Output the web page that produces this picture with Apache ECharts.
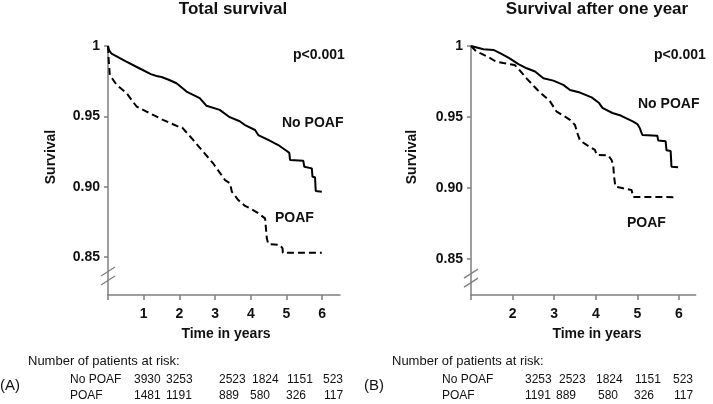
<!DOCTYPE html>
<html>
<head>
<meta charset="utf-8">
<script src="https://cdn.jsdelivr.net/npm/echarts@6/dist/echarts.min.js"></script>
<style>html,body{margin:0;padding:0;background:#fff}#c{width:713px;height:404px}</style>
</head>
<body>
<div id="c"></div>
<script>
// ---- data ----
const titles = ['Total survival', 'Survival after one year'];
const yTickValues = [0.85, 0.90, 0.95, 1];
const xTicksA = [1, 2, 3, 4, 5, 6];
const xTicksB = [2, 3, 4, 5, 6];

// Panel A: total survival  [time in years, survival]
const noPoafA = [[0,1],[0.03,0.997],[0.1,0.9945],[0.5,0.989],[0.89,0.984],[1.2,0.980],[1.36,0.9787],[1.5,0.978],[1.7,0.976],[1.92,0.9735],[2.2,0.9676],[2.57,0.963],[2.76,0.9575],[3.13,0.9546],[3.41,0.9494],[3.69,0.9465],[3.84,0.9438],[4.12,0.9403],[4.21,0.9367],[4.49,0.9332],[4.77,0.9296],[5.0,0.9255],[5.08,0.924],[5.1,0.919],[5.47,0.9185],[5.5,0.9142],[5.71,0.913],[5.73,0.907],[5.8,0.9067],[5.82,0.8969],[5.99,0.8964]];
const poafA = [[0,1],[0.02,0.99],[0.05,0.9794],[0.24,0.9724],[0.52,0.9665],[0.8,0.957],[1.08,0.9534],[1.54,0.9475],[2.0,0.9424],[2.08,0.942],[2.38,0.9334],[2.66,0.925],[2.94,0.9168],[3.28,0.9047],[3.42,0.9024],[3.47,0.8964],[3.65,0.8905],[3.84,0.8863],[3.98,0.8846],[4.21,0.8811],[4.4,0.8775],[4.45,0.8633],[4.49,0.8592],[4.82,0.8585],[4.89,0.8562],[4.9,0.853],[5.99,0.853]];

// Panel B: survival after one year
const noPoafB = [[1,1],[1.14,0.999],[1.3,0.9977],[1.54,0.9972],[1.72,0.9946],[1.92,0.9915],[2.14,0.9872],[2.34,0.9843],[2.54,0.982],[2.74,0.9773],[2.98,0.9756],[3.22,0.9726],[3.38,0.969],[3.62,0.9672],[3.9,0.9638],[4.08,0.9598],[4.16,0.9564],[4.4,0.9528],[4.6,0.951],[4.9,0.9467],[5.0,0.945],[5.06,0.942],[5.12,0.9373],[5.48,0.9368],[5.5,0.9335],[5.68,0.9329],[5.7,0.9265],[5.8,0.926],[5.82,0.915],[5.98,0.9146]];
const poafB = [[1,1],[1.1,0.997],[1.22,0.995],[1.46,0.9915],[1.6,0.989],[1.78,0.988],[2.05,0.9866],[2.14,0.984],[2.34,0.977],[2.6,0.969],[2.9,0.961],[3.06,0.9537],[3.22,0.951],[3.38,0.948],[3.5,0.9444],[3.56,0.9385],[3.62,0.9334],[3.78,0.9303],[3.98,0.9268],[4.02,0.9233],[4.3,0.923],[4.38,0.9197],[4.42,0.916],[4.44,0.908],[4.47,0.901],[4.66,0.8998],[4.86,0.8986],[4.9,0.8937],[5.94,0.8935]];

// Number of patients at risk
const riskNoPoafA = [3930, 3253, 2523, 1824, 1151, 523];
const riskPoafA = [1481, 1191, 889, 580, 326, 117];
const riskNoPoafB = [3253, 2523, 1824, 1151, 523];
const riskPoafB = [1191, 889, 580, 326, 117];

// ---- chart ----
const chart = echarts.init(document.getElementById('c'), null, {renderer: 'canvas'});
const FONT = '"Liberation Sans", Arial, sans-serif';
const AX = '#7f7f7f';

function xAxis(gi, min, max, labels, ticks) {
  return {
    type: 'value', gridIndex: gi, min: min, max: max,
    axisLine: {show: true, lineStyle: {color: AX, width: 1.5}},
    axisTick: {show: true, length: 5, lineStyle: {color: AX, width: 1.5}, customValues: ticks},
    axisLabel: {show: true, margin: 12, color: '#111', fontFamily: FONT, fontWeight: 'bold', fontSize: 14, customValues: labels},
    splitLine: {show: false}
  };
}
function yAxis(gi, min) {
  return {
    type: 'value', gridIndex: gi, min: min, max: 1,
    axisLine: {show: true, lineStyle: {color: AX, width: 1.5}},
    axisTick: {show: true, length: 4, lineStyle: {color: AX, width: 1.5}, customValues: yTickValues},
    axisLabel: {show: true, margin: 8, color: '#111', fontFamily: FONT, fontWeight: 'bold', fontSize: 14,
      customValues: yTickValues, formatter: v => (Math.abs(v - 1) < 1e-9 ? '1' : v.toFixed(2))},
    splitLine: {show: false}
  };
}
function line(data, gi, dashed) {
  return {
    type: 'line', xAxisIndex: gi, yAxisIndex: gi, data: data, symbol: 'none', silent: true,
    lineStyle: {color: '#000', width: 2, type: dashed ? [7, 4] : 'solid'}, animation: false
  };
}
function txt(x, y, s, opt) {
  return Object.assign({type: 'text', x: x, y: y, silent: true,
    style: Object.assign({text: s, fill: '#111', font: '14px ' + FONT, textAlign: 'left', textVerticalAlign: 'middle'}, opt || {})});
}
const B = 'bold ';

const option = {
  animation: false,
  grid: [
    {left: 108, top: 46, width: 232, height: 249},
    {left: 471, top: 46, width: 224.6, height: 249}
  ],
  xAxis: [xAxis(0, 0, 6.5, xTicksA, [0,1,2,3,4,5,6]), xAxis(1, 1, 6.4, xTicksB, [1,2,3,4,5,6])],
  yAxis: [yAxis(0, 0.823), yAxis(1, 0.8246)],
  series: [line(noPoafA, 0, false), line(poafA, 0, true), line(noPoafB, 1, false), line(poafB, 1, true)]
};
chart.setOption(option);

// texts and axis-break marks
const g = [];
g.push(txt(233, 9, titles[0], {font: B + '17px ' + FONT, textAlign: 'center'}));
g.push(txt(597, 9, titles[1], {font: B + '17px ' + FONT, textAlign: 'center'}));
g.push(Object.assign(txt(51, 157, 'Survival', {font: B + '14px ' + FONT, textAlign: 'center'}), {rotation: Math.PI / 2}));
g.push(Object.assign(txt(412, 157, 'Survival', {font: B + '14px ' + FONT, textAlign: 'center'}), {rotation: Math.PI / 2}));
g.push(txt(226, 334, 'Time in years', {font: B + '14px ' + FONT, textAlign: 'center'}));
g.push(txt(597, 334, 'Time in years', {font: B + '14px ' + FONT, textAlign: 'center'}));
g.push(txt(293, 55, 'p<0.001', {font: B + '14px ' + FONT}));
g.push(txt(654, 55, 'p<0.001', {font: B + '14px ' + FONT}));
g.push(txt(282, 123, 'No POAF', {font: B + '14px ' + FONT}));
g.push(txt(275, 218, 'POAF', {font: B + '14px ' + FONT}));
g.push(txt(638, 104, 'No POAF', {font: B + '14px ' + FONT}));
g.push(txt(627, 223, 'POAF', {font: B + '14px ' + FONT}));

const TF = '12px ' + FONT;
g.push(txt(28, 361, 'Number of patients at risk:', {font: '13px ' + FONT}));
g.push(txt(392, 361, 'Number of patients at risk:', {font: '13px ' + FONT}));
g.push(txt(70, 380, 'No POAF', {font: TF}));
g.push(txt(70, 396, 'POAF', {font: TF}));
g.push(txt(442, 380, 'No POAF', {font: TF}));
g.push(txt(442, 396, 'POAF', {font: TF}));
g.push(txt(0, 386, '(A)', {font: '15px ' + FONT}));
g.push(txt(364, 386, '(B)', {font: '15px ' + FONT}));

const colA1 = [134, 166, 219, 252, 287, 323];
const colA2 = [134, 166, 219, 250, 286, 324];
const colB1 = [525, 559, 596, 635, 673];
const colB2 = [525, 556, 598, 634, 674];
riskNoPoafA.forEach((v, i) => g.push(txt(colA1[i], 380, String(v), {font: TF})));
riskPoafA.forEach((v, i) => g.push(txt(colA2[i], 396, String(v), {font: TF})));
riskNoPoafB.forEach((v, i) => g.push(txt(colB1[i], 380, String(v), {font: TF})));
riskPoafB.forEach((v, i) => g.push(txt(colB2[i], 396, String(v), {font: TF})));

// axis break marks ("//") on each y axis
[0, 1].forEach(gi => {
  const p = chart.convertToPixel({gridIndex: gi}, [gi === 0 ? 0 : 1, 0.8365]);
  g.push({type: 'rect', shape: {x: p[0] - 3, y: p[1] - 4, width: 6, height: 8}, style: {fill: '#fff'}, silent: true});
  [-5, 4].forEach(dy => g.push({type: 'line', silent: true,
    shape: {x1: p[0] - 7, y1: p[1] + dy + 5, x2: p[0] + 7, y2: p[1] + dy - 4},
    style: {stroke: AX, lineWidth: 1.3}}));
});

chart.setOption({graphic: {elements: g}});
</script>
</body>
</html>
